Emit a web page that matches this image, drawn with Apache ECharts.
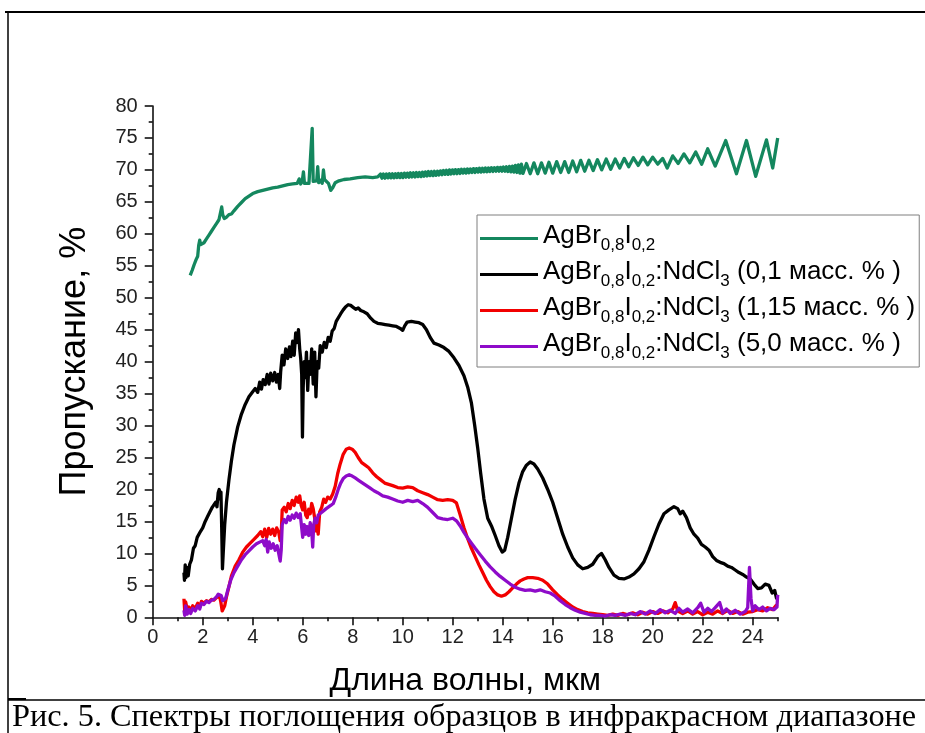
<!DOCTYPE html>
<html>
<head>
<meta charset="utf-8">
<script src="https://cdn.jsdelivr.net/npm/echarts@6/dist/echarts.min.js"></script>
<style>
html,body{margin:0;padding:0;background:#fff;}
#chart{width:925px;height:733px;}
</style>
</head>
<body>
<div id="chart"></div>
<script>
// ---------- data ----------
const seriesNames = [
  'AgBr0,8I0,2',
  'AgBr0,8I0,2:NdCl3 (0,1 масс. % )',
  'AgBr0,8I0,2:NdCl3 (1,15 масс. % )',
  'AgBr0,8I0,2:NdCl3 (5,0 масс. % )'
];
const legendLabels = [
  '{m|AgBr}{s|0,8}{m|I}{s|0,2}',
  '{m|AgBr}{s|0,8}{m|I}{s|0,2}{m|:NdCl}{s|3}{m| (0,1 масс. % )}',
  '{m|AgBr}{s|0,8}{m|I}{s|0,2}{m|:NdCl}{s|3}{m| (1,15 масс. % )}',
  '{m|AgBr}{s|0,8}{m|I}{s|0,2}{m|:NdCl}{s|3}{m| (5,0 масс. % )}'
];
const xMajorTicks = [0,2,4,6,8,10,12,14,16,18,20,22,24];
const xMinorTicks = [1,3,5,7,9,11,13,15,17,19,21,23,25];
const xTitle = 'Длина волны, мкм';
const yTitle = 'Пропускание, %';
const caption = 'Рис. 5. Спектры поглощения образцов в инфракрасном диапазоне';

const greenData = [
[1.50,53.5],[1.58,54.3],[1.66,55.2],[1.74,56.0],[1.80,56.5],[1.84,58.2],[1.88,59.0],[1.92,58.3],[1.97,58.0],[2.05,58.6],
[2.15,59.2],[2.25,59.8],[2.35,60.4],[2.45,61.0],[2.55,61.6],[2.65,62.2],[2.72,62.5],[2.76,64.2],[2.80,63.0],[2.86,62.4],
[2.95,62.6],[3.05,63.0],[3.15,63.1],[3.25,63.6],[3.40,64.3],[3.55,64.9],[3.70,65.5],[3.85,65.9],[4.00,66.3],[4.20,66.6],
[4.40,66.8],[4.60,67.0],[4.80,67.2],[5.00,67.3],[5.20,67.5],[5.40,67.7],[5.60,67.8],[5.78,67.9],[5.86,68.6],[5.92,67.8],
[5.98,68.2],[6.03,69.7],[6.07,67.9],[6.15,68.1],[6.25,67.9],[6.33,68.2],[6.38,76.5],[6.42,68.2],[6.50,67.9],[6.56,68.3],
[6.60,70.5],[6.64,68.0],[6.72,68.4],[6.78,67.9],[6.83,70.0],[6.87,68.5],[6.95,68.2],[7.03,67.9],[7.12,66.8],[7.20,67.2],
[7.30,68.0],[7.45,68.3],[7.65,68.5],[7.90,68.6],[8.20,68.8],[8.50,68.9],[8.80,68.8],[9.00,68.9],
[9.05,68.7],[9.11,69.35],[9.17,68.7],[9.23,69.35],[9.29,68.7],[9.35,69.35],[9.41,68.75],[9.47,69.4],[9.53,68.75],[9.59,69.4],
[9.65,68.75],[9.71,69.4],[9.77,68.8],[9.83,69.45],[9.89,68.8],[9.95,69.45],[10.01,68.8],[10.07,69.5],[10.13,68.85],[10.19,69.5],
[10.25,68.85],[10.31,69.55],[10.37,68.9],[10.43,69.55],[10.49,68.9],[10.55,69.6],[10.61,68.95],[10.67,69.6],[10.73,68.95],[10.79,69.65],
[10.85,69.0],[10.91,69.7],[10.97,69.05],[11.03,69.75],[11.09,69.1],[11.15,69.75],[11.21,69.1],[11.27,69.8],[11.33,69.15],[11.39,69.8],
[11.45,69.2],[11.51,69.85],[11.57,69.25],[11.63,69.9],[11.69,69.3],[11.75,69.95],[11.81,69.3],[11.87,70.0],[11.93,69.35],[11.99,70.0],
[12.05,69.4],[12.11,70.05],[12.17,69.4],[12.23,70.05],[12.29,69.45],[12.35,70.1],[12.41,69.5],[12.47,70.1],[12.53,69.5],[12.59,70.15],
[12.65,69.55],[12.71,70.15],[12.77,69.6],[12.83,70.2],[12.89,69.6],[12.95,70.2],[13.01,69.65],[13.07,70.25],[13.13,69.65],[13.19,70.25],
[13.25,69.7],[13.31,70.3],[13.37,69.7],[13.43,70.3],[13.49,69.75],[13.55,70.35],[13.61,69.75],[13.67,70.35],[13.73,69.8],[13.79,70.4],
[13.85,69.8],[13.91,70.4],[13.97,69.8],[14.03,70.45],[14.09,69.8],[14.15,70.5],[14.21,69.75],[14.27,70.55],[14.33,69.7],[14.39,70.6],
[14.45,69.65],[14.51,70.7],[14.57,69.6],[14.63,70.8],[14.69,69.5],[14.75,70.9],[14.81,69.45],
[14.95,71.0],[15.10,69.4],[15.25,71.1],[15.40,69.4],[15.55,71.1],[15.70,69.5],[15.85,71.2],[16.00,69.5],[16.16,71.3],[16.32,69.6],
[16.48,71.3],[16.64,69.6],[16.80,71.4],[16.96,69.7],[17.12,71.5],[17.28,69.8],[17.45,71.5],[17.62,69.9],[17.79,71.6],[17.96,70.0],
[18.14,71.7],[18.32,70.1],[18.50,71.7],[18.68,70.3],[18.86,71.8],[19.04,70.5],[19.23,71.9],[19.42,70.7],[19.61,72.0],[19.80,70.8],
[20.00,72.0],[20.20,70.9],[20.40,71.8],[20.58,70.3],[20.80,72.2],[21.02,71.0],[21.25,72.5],[21.48,71.1],[21.72,72.8],[21.96,70.9],
[22.20,73.3],[22.50,70.6],[22.92,74.6],[23.35,69.4],[23.75,74.6],[24.12,69.0],[24.55,74.7],[24.80,70.3],[25.00,75.0]
];

const blackData = [
[1.25,7.0],[1.27,5.8],[1.30,8.2],[1.33,6.2],[1.37,7.8],[1.42,6.5],[1.48,8.3],[1.55,9.0],[1.63,10.8],[1.70,11.2],
[1.78,12.5],[1.85,12.8],[1.92,13.5],[2.00,14.0],[2.10,15.0],[2.20,15.8],[2.30,16.6],[2.38,17.2],[2.45,17.0],[2.52,18.0],
[2.57,17.3],[2.62,19.5],[2.66,20.0],[2.70,18.5],[2.73,19.6],[2.76,14.0],[2.79,7.6],[2.82,10.0],[2.88,14.5],[2.95,18.0],
[3.05,21.5],[3.15,24.5],[3.25,27.0],[3.40,29.8],[3.55,31.8],[3.70,33.3],[3.85,34.5],[4.00,35.3],[4.10,35.8],[4.20,35.2],
[4.28,36.8],[4.35,35.7],[4.42,37.2],[4.50,36.4],[4.58,38.0],[4.65,36.5],[4.72,38.2],[4.80,37.0],[4.88,38.3],[4.95,36.8],
[5.02,38.0],[5.08,35.8],[5.12,38.5],[5.18,41.0],[5.25,39.5],[5.32,42.0],[5.40,40.5],[5.47,42.3],[5.53,40.8],[5.60,43.2],
[5.66,41.0],[5.72,44.5],[5.78,43.0],[5.83,45.0],[5.88,42.0],[5.92,40.5],[5.96,38.0],[5.99,28.2],[6.02,36.0],[6.06,40.0],
[6.10,37.5],[6.15,41.5],[6.20,35.5],[6.25,40.0],[6.30,38.0],[6.36,42.0],[6.42,36.5],[6.48,41.5],[6.53,34.5],[6.58,40.0],
[6.64,39.0],[6.70,42.5],[6.78,41.5],[6.86,43.0],[6.94,42.2],[7.02,43.8],[7.10,43.2],[7.18,44.8],[7.26,45.2],[7.34,46.3],
[7.42,46.6],[7.52,47.5],[7.62,48.1],[7.72,48.6],[7.82,48.9],[7.92,48.8],[8.02,48.5],[8.12,48.2],[8.22,48.4],[8.32,48.0],
[8.45,47.8],[8.58,47.5],[8.72,46.8],[8.85,46.3],[9.00,46.0],[9.15,45.9],[9.30,45.8],[9.45,45.7],[9.60,45.6],[9.75,45.5],
[9.90,45.2],[10.00,44.9],[10.08,45.6],[10.18,46.2],[10.35,46.3],[10.50,46.2],[10.65,46.1],[10.80,45.8],[10.95,45.0],[11.10,43.8],
[11.25,42.9],[11.45,42.6],[11.65,42.2],[11.85,41.6],[12.05,40.6],[12.25,39.4],[12.45,37.8],[12.60,36.0],[12.75,33.5],[12.88,30.0],
[13.00,26.5],[13.12,22.5],[13.25,18.5],[13.40,15.5],[13.55,14.3],[13.70,12.8],[13.85,11.2],[13.98,10.2],[14.08,10.5],[14.20,12.5],
[14.35,15.5],[14.50,18.5],[14.65,21.0],[14.80,22.8],[14.95,23.8],[15.10,24.3],[15.25,24.0],[15.40,23.2],[15.60,21.8],[15.80,20.0],
[16.00,18.0],[16.20,15.5],[16.40,13.0],[16.60,11.0],[16.80,9.3],[17.00,8.2],[17.20,7.6],[17.40,7.8],[17.60,8.3],[17.80,9.5],
[17.95,10.0],[18.10,9.0],[18.25,7.8],[18.45,6.6],[18.65,6.1],[18.85,6.0],[19.05,6.3],[19.25,6.8],[19.45,7.6],[19.65,8.7],
[19.85,10.5],[20.05,12.6],[20.25,14.6],[20.45,16.2],[20.65,16.8],[20.85,17.3],[21.00,17.0],[21.10,16.2],[21.20,16.6],[21.35,15.6],
[21.50,14.0],[21.65,13.0],[21.80,12.4],[21.95,11.4],[22.10,11.0],[22.25,10.5],[22.40,9.5],[22.55,8.9],[22.70,8.6],[22.85,8.4],
[23.00,8.0],[23.15,7.8],[23.30,7.4],[23.45,7.0],[23.60,6.7],[23.75,6.3],[23.90,6.0],[24.05,5.2],[24.20,4.5],[24.35,4.6],
[24.50,5.2],[24.65,5.0],[24.78,3.8],[24.88,4.2],[24.95,3.0],[25.00,3.5]
];

const redData = [
[1.25,2.9],[1.28,1.0],[1.32,2.4],[1.38,1.2],[1.45,1.6],[1.52,1.0],[1.60,1.8],[1.70,1.4],[1.80,2.2],[1.88,1.6],
[1.95,2.5],[2.05,2.2],[2.15,2.6],[2.25,2.4],[2.35,2.8],[2.45,2.7],[2.55,3.1],[2.62,3.4],[2.68,3.2],[2.72,2.5],
[2.78,1.0],[2.82,0.8],[2.88,1.8],[2.95,3.2],[3.05,4.8],[3.15,6.5],[3.30,8.0],[3.45,9.0],[3.60,10.2],[3.75,11.0],
[3.90,11.6],[4.05,12.2],[4.20,12.8],[4.32,13.4],[4.40,12.6],[4.48,13.8],[4.56,12.5],[4.64,13.9],[4.72,13.0],[4.80,13.8],
[4.88,12.8],[4.96,14.0],[5.04,13.3],[5.10,12.0],[5.14,13.0],[5.18,16.8],[5.26,17.2],[5.34,16.5],[5.42,17.8],[5.50,17.0],
[5.58,18.3],[5.66,17.5],[5.74,18.8],[5.82,18.0],[5.88,19.0],[5.94,17.5],[6.00,16.8],[6.06,18.0],[6.12,16.0],[6.18,15.6],
[6.24,16.9],[6.30,16.2],[6.36,17.8],[6.42,17.0],[6.48,15.5],[6.54,13.5],[6.58,14.5],[6.62,13.0],[6.68,16.5],[6.76,17.2],
[6.84,18.5],[6.92,18.0],[7.00,18.8],[7.10,18.5],[7.20,19.3],[7.30,20.5],[7.40,22.5],[7.50,24.0],[7.62,25.5],[7.74,26.3],
[7.86,26.5],[7.98,26.3],[8.10,25.8],[8.22,25.0],[8.36,24.2],[8.50,23.8],[8.64,23.4],[8.80,22.6],[8.96,22.0],[9.12,21.5],
[9.28,21.0],[9.44,20.8],[9.60,20.6],[9.80,20.3],[10.00,20.2],[10.20,20.4],[10.40,20.3],[10.60,19.8],[10.80,19.5],[11.00,19.2],
[11.20,18.8],[11.40,18.4],[11.60,18.3],[11.80,18.4],[12.00,18.3],[12.15,17.9],[12.30,16.0],[12.45,14.0],[12.60,12.3],[12.75,10.8],
[12.90,9.5],[13.05,8.2],[13.20,7.0],[13.35,5.8],[13.50,4.8],[13.65,4.0],[13.80,3.5],[13.95,3.3],[14.10,3.5],[14.25,4.0],
[14.40,4.6],[14.55,5.2],[14.70,5.7],[14.85,6.0],[15.00,6.2],[15.20,6.2],[15.40,6.1],[15.60,5.8],[15.80,5.2],[16.00,4.3],
[16.20,3.5],[16.40,2.8],[16.60,2.2],[16.80,1.6],[17.00,1.2],[17.20,0.9],[17.40,0.7],[17.60,0.6],[17.80,0.5],[18.00,0.4],
[18.20,0.3],[18.40,0.5],[18.60,0.3],[18.80,0.6],[19.00,0.4],[19.20,0.7],[19.40,0.4],[19.60,0.8],[19.80,0.5],[20.00,0.9],
[20.20,0.6],[20.40,1.0],[20.60,0.7],[20.80,1.3],[20.90,2.3],[21.00,1.0],[21.20,0.6],[21.40,1.0],[21.60,0.5],[21.80,0.9],
[22.00,0.4],[22.20,0.8],[22.40,0.5],[22.60,1.0],[22.80,0.6],[23.00,1.1],[23.20,0.6],[23.40,0.9],[23.60,0.5],[23.80,0.8],
[24.00,0.9],[24.20,1.2],[24.40,1.0],[24.60,1.5],[24.80,1.2],[24.95,1.9],[25.00,2.0]
];

const purpleData = [
[1.25,1.1],[1.28,0.3],[1.32,1.8],[1.38,0.5],[1.45,1.2],[1.52,0.6],[1.60,1.4],[1.70,1.0],[1.80,1.8],[1.88,1.3],
[1.95,2.2],[2.05,2.0],[2.15,2.5],[2.25,2.3],[2.35,2.7],[2.45,2.8],[2.55,3.2],[2.62,3.6],[2.68,3.8],[2.74,3.4],
[2.80,2.6],[2.86,2.4],[2.92,3.0],[3.00,4.2],[3.12,5.8],[3.25,7.0],[3.40,8.0],[3.55,9.0],[3.70,9.8],[3.85,10.4],
[4.00,11.0],[4.15,11.5],[4.30,11.8],[4.40,12.0],[4.48,11.2],[4.54,12.2],[4.60,10.2],[4.66,11.8],[4.74,10.8],[4.82,11.5],
[4.90,10.5],[4.98,11.2],[5.05,9.8],[5.10,8.8],[5.14,10.5],[5.18,14.5],[5.26,15.3],[5.34,14.8],[5.42,15.8],[5.50,15.2],
[5.58,16.0],[5.66,15.5],[5.74,16.3],[5.82,15.6],[5.90,16.2],[5.96,14.0],[6.00,12.5],[6.06,14.5],[6.12,13.0],[6.18,14.2],
[6.24,12.8],[6.30,14.8],[6.36,13.5],[6.40,11.0],[6.44,14.5],[6.50,15.5],[6.56,14.8],[6.62,16.0],[6.70,15.8],[6.78,16.5],
[6.86,16.2],[6.94,17.0],[7.02,16.8],[7.12,17.5],[7.22,17.8],[7.32,18.8],[7.42,20.0],[7.52,21.0],[7.62,21.7],[7.74,22.1],
[7.86,22.3],[7.98,22.1],[8.10,21.8],[8.25,21.4],[8.40,21.0],[8.55,20.6],[8.70,20.2],[8.85,19.8],[9.00,19.5],[9.20,19.0],
[9.40,18.8],[9.60,18.5],[9.80,18.2],[10.00,18.0],[10.20,18.3],[10.40,18.1],[10.60,18.3],[10.80,17.8],[11.00,17.2],[11.20,16.4],
[11.40,15.6],[11.60,15.4],[11.80,15.3],[12.00,15.5],[12.15,15.1],[12.30,14.3],[12.45,13.3],[12.60,12.4],[12.75,11.6],[12.90,10.8],
[13.10,9.8],[13.30,8.8],[13.50,7.9],[13.70,7.1],[13.90,6.4],[14.10,5.8],[14.30,5.2],[14.50,4.7],[14.70,4.4],[14.90,4.2],
[15.10,4.3],[15.30,4.1],[15.50,4.3],[15.70,4.0],[15.90,3.8],[16.10,3.3],[16.30,2.6],[16.50,2.0],[16.70,1.5],[16.90,1.1],
[17.10,0.8],[17.30,0.6],[17.50,0.4],[17.70,0.3],[17.90,0.3],[18.10,0.2],[18.30,0.4],[18.50,0.3],[18.70,0.5],[18.90,0.3],
[19.10,0.6],[19.30,0.4],[19.50,0.9],[19.70,0.5],[19.90,1.0],[20.10,0.6],[20.30,1.2],[20.50,0.7],[20.70,1.1],[20.90,0.6],
[21.05,1.4],[21.20,0.8],[21.40,1.3],[21.60,0.7],[21.80,1.5],[21.92,2.2],[22.05,0.8],[22.20,1.4],[22.35,0.9],[22.50,1.5],
[22.68,2.3],[22.80,0.7],[22.95,1.3],[23.10,0.6],[23.30,1.1],[23.50,0.5],[23.70,0.9],[23.80,1.5],[23.87,7.8],[23.93,3.0],
[24.00,1.0],[24.10,1.8],[24.25,1.2],[24.40,1.6],[24.55,1.0],[24.70,1.4],[24.85,1.2],[24.97,1.6],[25.00,3.5]
];

const seriesData = [greenData, blackData, redData, purpleData];
const seriesColors = ['#14875e', '#000000', '#f20000', '#8e0bc9'];

// ---------- chart ----------
const SANS = 'Liberation Sans, Arial, sans-serif';
const chart = echarts.init(document.getElementById('chart'), null, {renderer: 'canvas'});
const legendMap = {};
seriesNames.forEach((n, i) => legendMap[n] = legendLabels[i]);

const option = {
  animation: false,
  backgroundColor: '#ffffff',
  title: {
    text: caption,
    left: 12,
    top: 702,
    padding: 0,
    textStyle: {fontFamily: 'Liberation Serif, Times New Roman, serif', fontSize: 32.3, fontWeight: 'normal', color: '#000'}
  },
  grid: {left: 152.7, right: 147.3, top: 106, bottom: 115.7, containLabel: false, outerBoundsMode: 'none'},
  legend: {
    orient: 'vertical',
    left: 477,
    top: 215,
    padding: [8, 4, 5, 3],
    itemWidth: 58,
    itemHeight: 3,
    itemGap: 5,
    icon: 'rect',
    borderColor: '#7f7f7f',
    borderWidth: 1,
    backgroundColor: '#fff',
    data: seriesNames,
    formatter: name => legendMap[name],
    textStyle: {
      color: '#000',
      fontFamily: SANS,
      rich: {
        m: {fontSize: 26, fontFamily: SANS, color: '#000', verticalAlign: 'bottom', padding: [0, 0, 5, 0]},
        s: {fontSize: 17, fontFamily: SANS, color: '#000', verticalAlign: 'bottom'}
      }
    }
  },
  xAxis: [{
    type: 'value', min: 0, max: 25, position: 'bottom',
    axisLine: {show: true, onZero: false, lineStyle: {color: '#111', width: 1.6}},
    axisTick: {show: true, customValues: xMajorTicks, length: 8, lineStyle: {color: '#111', width: 1.6}},
    axisLabel: {customValues: xMajorTicks, fontSize: 20, color: '#222', fontFamily: SANS, margin: 10},
    splitLine: {show: false},
    name: xTitle, nameLocation: 'middle', nameGap: 48, nameMoveOverlap: false,
    nameTextStyle: {fontSize: 32, color: '#000', fontFamily: SANS}
  }, {
    type: 'value', min: 0, max: 25, position: 'bottom',
    axisLine: {show: false},
    axisTick: {show: true, customValues: xMinorTicks, length: 4, lineStyle: {color: '#111', width: 1.6}},
    axisLabel: {show: false},
    splitLine: {show: false}
  }],
  yAxis: {
    type: 'value', min: 0, max: 80, interval: 5,
    axisLine: {show: true, onZero: false, lineStyle: {color: '#111', width: 1.6}},
    axisTick: {show: true, length: 8, lineStyle: {color: '#111', width: 1.6}},
    minorTick: {show: true, splitNumber: 2, length: 4, lineStyle: {color: '#111', width: 1.6}},
    axisLabel: {fontSize: 20, color: '#222', fontFamily: SANS, margin: 15},
    splitLine: {show: false},
    name: yTitle, nameLocation: 'middle', nameGap: 60, nameRotate: 90, nameMoveOverlap: false,
    nameTextStyle: {fontSize: 36, color: '#000', fontFamily: SANS}
  },
  graphic: [
    {type: 'line', shape: {x1: 5, y1: 12, x2: 925, y2: 12}, style: {stroke: '#000', lineWidth: 2}, silent: true},
    {type: 'line', shape: {x1: 8, y1: 12, x2: 8, y2: 733}, style: {stroke: '#000', lineWidth: 1.5}, silent: true},
    {type: 'line', shape: {x1: 8, y1: 700, x2: 925, y2: 700}, style: {stroke: '#000', lineWidth: 1.5}, silent: true},
    {type: 'line', shape: {x1: 8, y1: 699, x2: 26, y2: 699}, style: {stroke: '#000', lineWidth: 2}, silent: true}
  ],
  series: seriesNames.map((n, i) => ({
    name: n,
    type: 'line',
    xAxisIndex: 0,
    data: seriesData[i],
    showSymbol: false,
    symbol: 'none',
    color: seriesColors[i],
    itemStyle: {color: seriesColors[i]},
    lineStyle: {color: seriesColors[i], width: 3.3, join: 'round'},
    sampling: null,
    z: 2 + i
  }))
};
chart.setOption(option);
</script>
</body>
</html>
